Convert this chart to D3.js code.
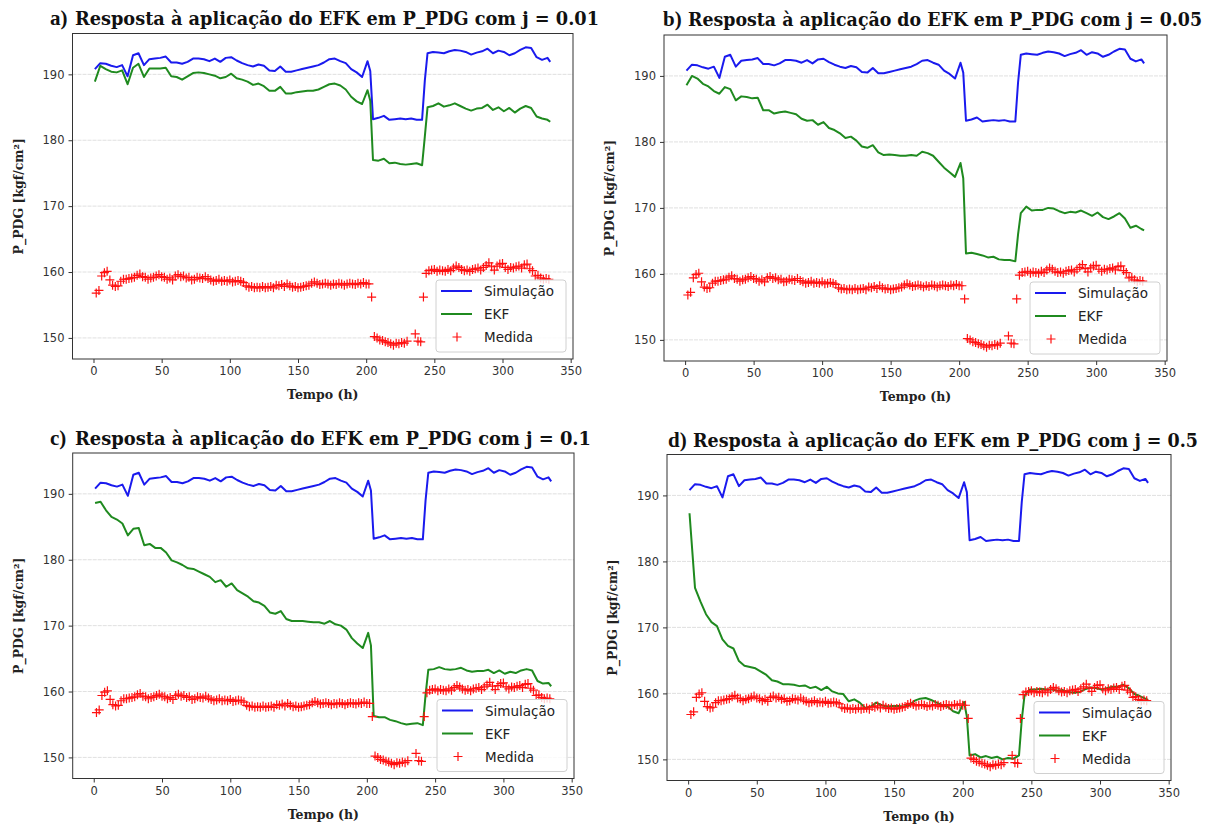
<!DOCTYPE html>
<html>
<head>
<meta charset="utf-8">
<script src="https://cdn.jsdelivr.net/npm/d3@7"></script>
<style>
  body { margin: 0; background: #fff; }
  svg { display: block; }
  .axis text { font-family: "DejaVu Sans", sans-serif; font-size: 11.5px; fill: #333; }
  .axis line, .axis path { stroke: #333; }
</style>
</head>
<body>
<svg id="chart" width="1210" height="827"></svg>
<script>
// tempo (h) dos pontos das curvas
const tempo = [
  1, 5, 9, 13, 17, 21, 25, 29, 33, 37, 41, 45, 49, 53, 57, 61, 65, 69, 73, 77,
  81, 85, 89, 93, 97, 101, 105, 109, 113, 117, 121, 125, 129, 133, 137, 141, 145, 149, 153, 157,
  161, 165, 169, 173, 177, 181, 185, 189, 193, 197, 201,
  203, 205, 209, 213, 217, 221, 225, 229, 233, 237, 241,
  243,
  245, 249, 253, 257, 261, 265, 269, 273, 277, 281, 285, 289, 293, 297, 301, 305, 309, 313, 317, 321,
  325, 329, 333, 335
];

const simulacao = [
  190.8, 191.7, 191.6, 191.3, 191.1, 191.4, 189.7, 192.9, 193.2, 191.4, 192.3, 192.4, 192.5, 192.7, 191.8, 191.8, 191.6, 191.9, 192.4, 192.4,
  192.3, 192.0, 192.4, 191.9, 192.5, 192.6, 192.1, 191.7, 191.4, 191.2, 191.5, 191.3, 190.6, 190.5, 191.2, 190.4, 190.4, 190.6, 190.8, 191.0,
  191.2, 191.4, 191.8, 192.3, 192.4, 192.0, 191.7, 190.8, 190.3, 189.6, 192.0,
  190.5, 183.2, 183.4, 183.7, 183.1, 183.2, 183.3, 183.2, 183.3, 183.1, 183.1,
  189.0,
  193.2, 193.4, 193.3, 193.2, 193.5, 193.7, 193.6, 193.4, 193.0, 193.3, 193.5, 193.9, 193.2, 193.6, 193.4, 192.9, 193.2, 193.7, 194.1, 194.0,
  192.6, 192.2, 192.5, 191.9
];

const ekfA = [
  188.9, 191.3, 190.8, 190.4, 190.3, 190.6, 188.5, 191.0, 191.6, 189.6, 190.9, 190.9, 190.9, 191.0, 189.7, 189.6, 189.2, 189.7, 190.2, 190.3,
  190.2, 190.0, 189.8, 189.4, 189.6, 190.1, 189.4, 189.2, 188.9, 188.4, 188.6, 188.2, 187.5, 187.5, 188.1, 187.1, 187.1, 187.3, 187.4, 187.5,
  187.5, 187.7, 188.1, 188.5, 188.6, 188.3, 187.7, 186.6, 185.9, 185.5, 187.6,
  186.0, 177.0, 176.9, 177.2, 176.5, 176.6, 176.4, 176.3, 176.4, 176.5, 176.2,
  180.5,
  185.0, 185.2, 185.6, 185.1, 185.3, 185.6, 185.2, 184.8, 184.5, 184.8, 184.9, 185.4, 184.6, 185.0, 184.4, 184.9, 184.2, 184.8, 185.2, 184.9,
  183.6, 183.3, 183.1, 182.8
];

const ekfB = [
  188.6, 190.0, 189.6, 188.8, 188.4, 187.7, 187.3, 188.3, 188.0, 186.3, 186.9, 186.8, 186.6, 186.7, 184.8, 184.8, 184.3, 184.5, 184.6, 184.4,
  184.2, 183.5, 183.2, 183.3, 182.6, 183.0, 182.1, 181.8, 181.3, 180.6, 180.8, 180.2, 179.3, 179.1, 179.5, 178.4, 178.0, 178.1, 178.0, 177.9,
  177.9, 178.0, 177.9, 178.5, 178.3, 177.9, 177.0, 176.1, 175.4, 174.7, 176.8,
  174.5, 163.1, 163.2, 163.0, 162.8, 162.5, 162.6, 162.2, 162.1, 162.1, 161.9,
  166.0,
  169.2, 170.2, 169.6, 169.7, 169.7, 170.0, 169.9, 169.5, 169.2, 169.4, 169.3, 169.6, 169.2, 168.8, 169.3, 168.6, 168.3, 168.7, 169.2, 168.4,
  167.0, 167.3, 166.8, 166.6
];

const ekfC = [
  188.6, 188.8, 187.5, 186.5, 186.1, 185.5, 183.7, 184.7, 184.8, 182.2, 182.4, 181.8, 181.8, 181.1, 179.9, 179.6, 179.2, 178.7, 178.6, 178.2,
  177.8, 177.4, 176.6, 176.9, 175.9, 176.4, 175.4, 174.9, 174.4, 173.7, 173.5, 173.0, 172.0, 171.8, 172.2, 171.0, 170.7, 170.7, 170.7, 170.6,
  170.5, 170.5, 170.3, 170.7, 170.2, 170.0, 169.4, 168.1, 167.3, 166.6, 168.9,
  167.0, 156.3, 156.1, 156.1, 155.7, 155.5, 155.2, 155.0, 155.1, 155.2, 154.9,
  159.5,
  163.3, 163.4, 163.7, 163.4, 163.3, 163.4, 163.6, 163.2, 163.0, 163.1, 163.1, 163.3, 162.8, 163.2, 162.7, 163.0, 162.8, 163.2, 163.4, 163.2,
  161.6, 161.2, 161.3, 160.8
];

const ekfD = [
  187.3, 176.0, 173.9, 172.0, 170.8, 170.2, 168.2, 167.2, 166.8, 164.9, 164.2, 164.0, 163.8, 163.3, 162.8, 162.0, 161.8, 161.4, 161.4, 161.3,
  161.1, 161.2, 160.8, 161.0, 160.5, 161.0, 160.3, 160.0, 159.9, 158.8, 159.1, 158.6, 157.8, 158.0, 158.6, 158.2, 158.0, 158.1, 158.1, 158.0,
  158.2, 158.9, 159.2, 159.3, 159.0, 158.6, 158.2, 158.0, 157.3, 157.0, 158.7,
  156.5, 150.6, 150.8, 150.3, 150.5, 150.2, 150.4, 150.0, 150.2, 150.1, 150.6,
  156.0,
  159.7, 160.6, 160.6, 160.7, 160.6, 160.6, 160.4, 160.5, 160.2, 160.1, 160.2, 160.6, 160.9, 160.8, 160.6, 160.8, 161.0, 161.0, 161.3, 160.8,
  159.9, 159.6, 159.2, 159.0
];

// medidas do PDG
const medidaTempo = [
  2, 4, 6, 8, 10, 12, 14, 16, 18, 20, 22, 24, 26, 28, 30, 32, 34, 36, 38, 40,
  42, 44, 46, 48, 50, 52, 54, 56, 58, 60, 62, 64, 66, 68, 70, 72, 74, 76, 78, 80,
  82, 84, 86, 88, 90, 92, 94, 96, 98, 100, 102, 104, 106, 108, 110, 112, 114, 116, 118, 120,
  122, 124, 126, 128, 130, 132, 134, 136, 138, 140, 142, 144, 146, 148, 150, 152, 154, 156, 158, 160,
  162, 164, 166, 168, 170, 172, 174, 176, 178, 180, 182, 184, 186, 188, 190, 192, 194, 196, 198, 200,
  202, 204, 206, 208, 210, 212, 214, 216, 218, 220, 222, 224, 226, 228, 230,
  236, 238, 240,
  242, 244, 246, 248, 250, 252, 254, 256, 258, 260, 262, 264, 266, 268, 270, 272, 274, 276, 278, 280,
  282, 284, 286, 288, 290, 292, 294, 296, 298, 300, 302, 304, 306, 308, 310, 312, 314, 316, 318, 320,
  322, 324, 326, 328, 330, 332, 334
];

const medida = [
  156.8, 157.2, 159.4, 159.9, 160.1, 158.8, 158.0, 157.8, 157.9, 158.6, 158.9, 158.9, 159.0, 159.1, 159.2, 159.5, 159.7, 159.3, 159.2, 158.9,
  159.1, 159.2, 159.4, 159.6, 159.3, 159.2, 158.9, 159.1, 158.8, 159.4, 159.6, 159.3, 159.4, 159.1, 159.2, 158.8, 158.9, 159.2, 159.1, 159.0,
  159.3, 159.0, 158.8, 158.6, 158.7, 158.9, 158.6, 158.7, 158.6, 158.8, 158.5, 158.6, 158.7, 158.6, 158.4, 157.9, 157.7, 157.8, 157.6, 157.7,
  157.6, 157.8, 157.6, 157.7, 157.8, 157.6, 158.0, 157.9, 158.1, 157.8, 158.2, 157.9, 157.7, 157.8, 157.6, 157.7, 157.8, 157.9, 158.0, 158.3,
  158.5, 158.3, 158.1, 158.2, 158.3, 158.2, 158.0, 158.2, 158.1, 158.3, 158.2, 158.0, 158.2, 158.3, 158.2, 158.1, 158.3, 158.2, 158.4, 158.2,
  158.2, 156.2, 150.2, 150.0, 149.7, 149.6, 149.4, 149.3, 149.1, 148.9, 149.2, 149.1, 149.3, 149.2, 149.5,
  150.6, 149.5, 149.4,
  156.2, 159.8, 160.2, 160.3, 160.4, 160.1, 160.3, 160.2, 160.1, 160.4, 160.2, 160.6, 160.9, 160.7, 160.4, 160.2, 160.3, 160.1, 160.4, 160.5,
  160.6, 160.3, 160.7, 161.0, 161.4, 160.8, 160.3, 160.9, 161.2, 161.3, 160.7, 160.4, 160.7, 160.6, 160.8, 160.9, 160.6, 161.1, 161.2, 160.5,
  160.2, 159.4, 159.5, 159.1, 158.9, 159.0, 158.9
];

const letras = ["a)", "b)", "c)", "d)"];
const valoresJ = ["0.01", "0.05", "0.1", "0.5"];
const ekfSeries = [ekfA, ekfB, ekfC, ekfD];
const legendaNomes = ["Simulação", "EKF", "Medida"];
const yTicks = [150, 160, 170, 180, 190];
const xTicks = [0, 50, 100, 150, 200, 250, 300, 350];

// area de cada grafico na pagina
const caixas = [
  {left: 72.5, right: 573, top: 33.5, bottom: 359, tx: 50, ty: 25, tw: 524},
  {left: 664, right: 1167, top: 35, bottom: 361, tx: 663, ty: 26, tw: 514},
  {left: 72.7, right: 574, top: 453, bottom: 778.5, tx: 50, ty: 445, tw: 516},
  {left: 667, right: 1171, top: 454.5, bottom: 780.5, tx: 668, ty: 447, tw: 505}
];

const svg = d3.select("#chart");

const cores = {sim: "#1a1aee", ekf: "#1f8a1f", med: "#ff1010"};
const cruz = "M-4.5,0H4.5M0,-4.5V4.5";

function drawPanel(i) {
  const box = caixas[i];
  const x = d3.scaleLinear().domain([-15.4, 351.7]).range([box.left, box.right]);
  const y = d3.scaleLinear().domain([146.8, 196.2]).range([box.bottom, box.top]);
  const g = svg.append("g");

  // grade horizontal
  g.append("g")
    .selectAll("line")
    .data(yTicks)
    .enter()
    .append("line")
    .attr("x1", box.left)
    .attr("x2", box.right)
    .attr("y1", d => y(d))
    .attr("y2", d => y(d))
    .attr("stroke", "#d8d8d8")
    .attr("stroke-width", 0.8)
    .attr("stroke-dasharray", "4,1");

  const linha = serie => d3.line()
    .x((d, k) => x(tempo[k]))
    .y(d => y(d))(serie);

  g.append("path")
    .attr("d", linha(simulacao))
    .attr("fill", "none")
    .attr("stroke", cores.sim)
    .attr("stroke-width", 2)
    .attr("stroke-linejoin", "round");

  g.append("path")
    .attr("d", linha(ekfSeries[i]))
    .attr("fill", "none")
    .attr("stroke", cores.ekf)
    .attr("stroke-width", 2)
    .attr("stroke-linejoin", "round");

  g.append("g")
    .selectAll("path")
    .data(medida)
    .enter()
    .append("path")
    .attr("d", cruz)
    .attr("transform", (d, k) => "translate(" + x(medidaTempo[k]) + "," + y(d) + ")")
    .attr("stroke", cores.med)
    .attr("stroke-width", 1.2);

  // moldura
  g.append("rect")
    .attr("x", box.left)
    .attr("y", box.top)
    .attr("width", box.right - box.left)
    .attr("height", box.bottom - box.top)
    .attr("fill", "none")
    .attr("stroke", "#333")
    .attr("stroke-width", 1);

  g.append("g")
    .attr("class", "axis")
    .attr("transform", "translate(0," + box.bottom + ")")
    .call(d3.axisBottom(x).tickValues(xTicks).tickSize(4).tickPadding(4).tickSizeOuter(0))
    .call(s => s.select(".domain").remove());

  g.append("g")
    .attr("class", "axis")
    .attr("transform", "translate(" + box.left + ",0)")
    .call(d3.axisLeft(y).tickValues(yTicks).tickSize(4).tickPadding(4).tickSizeOuter(0))
    .call(s => s.select(".domain").remove());

  // rotulos dos eixos
  g.append("text")
    .attr("x", (box.left + box.right) / 2)
    .attr("y", box.bottom + 40)
    .attr("text-anchor", "middle")
    .style("font-family", "'DejaVu Serif', serif")
    .style("font-weight", "bold")
    .style("font-size", "12.5px")
    .style("fill", "#222")
    .text("Tempo (h)");

  g.append("text")
    .attr("transform", "translate(" + (box.left - 50) + "," + ((box.top + box.bottom) / 2) + ") rotate(-90)")
    .attr("text-anchor", "middle")
    .style("font-family", "'DejaVu Serif', serif")
    .style("font-weight", "bold")
    .style("font-size", "12.5px")
    .style("fill", "#222")
    .text("P_PDG [kgf/cm²]");

  // titulo
  g.append("text")
    .attr("x", box.tx)
    .attr("y", box.ty)
    .style("font-family", "'Liberation Serif', serif")
    .style("font-weight", "bold")
    .style("font-size", "21px")
    .style("fill", "#111")
    .text(letras[i]);

  g.append("text")
    .attr("transform", "translate(" + (box.tx + 25) + "," + box.ty + ") scale(1,1.25)")
    .attr("textLength", box.tw)
    .attr("lengthAdjust", "spacingAndGlyphs")
    .style("font-family", "'DejaVu Serif', serif")
    .style("font-weight", "bold")
    .style("font-size", "15.3px")
    .style("fill", "#111")
    .text("Resposta à aplicação do EFK em P_PDG com j = " + valoresJ[i]);

  // legenda
  const lg = g.append("g")
    .attr("transform", "translate(" + (box.right - 137) + "," + (box.bottom - 79) + ")");
  lg.append("rect")
    .attr("width", 130)
    .attr("height", 72)
    .attr("rx", 3)
    .attr("fill", "#fff")
    .attr("fill-opacity", 0.8)
    .attr("stroke", "#d0d0d0");
  legendaNomes.forEach((nome, k) => {
    const cy = 11 + k * 23;
    if (k < 2) {
      lg.append("line")
        .attr("x1", 5).attr("x2", 36)
        .attr("y1", cy).attr("y2", cy)
        .attr("stroke", k === 0 ? cores.sim : cores.ekf)
        .attr("stroke-width", 2);
    } else {
      lg.append("path")
        .attr("d", cruz)
        .attr("transform", "translate(21," + cy + ")")
        .attr("stroke", cores.med)
        .attr("stroke-width", 1.2);
    }
    lg.append("text")
      .attr("x", 48)
      .attr("y", cy + 5)
      .style("font-family", "'DejaVu Sans', sans-serif")
      .style("font-size", "13.5px")
      .style("fill", "#222")
      .text(nome);
  });
}

[0, 1, 2, 3].forEach(drawPanel);
</script>
</body>
</html>
